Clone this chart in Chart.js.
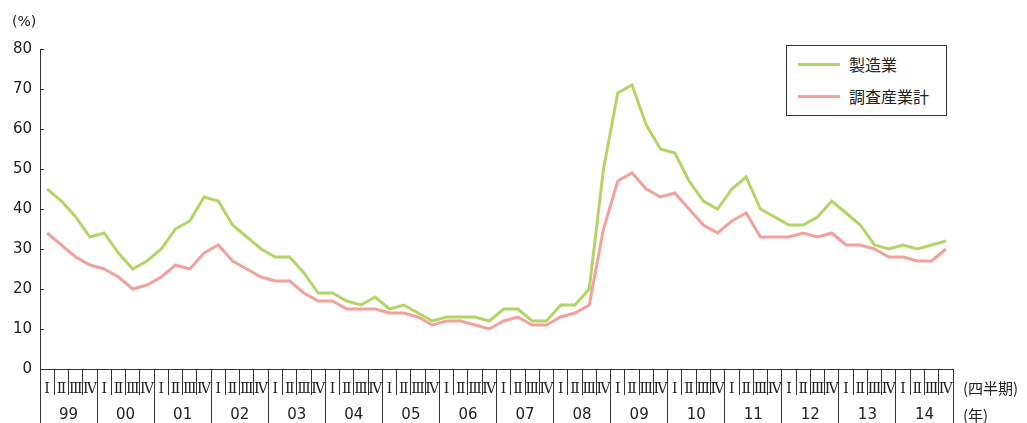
<!DOCTYPE html>
<html>
<head>
<meta charset="utf-8">
<script src="https://cdn.jsdelivr.net/npm/chart.js@4/dist/chart.umd.min.js"></script>
<style>
  html, body { margin: 0; padding: 0; background: #fff; }
  #wrap { position: relative; width: 1027px; height: 423px; }
  #legend {
    position: absolute; left: 786px; top: 45px; width: 159px; height: 69px;
    border: 1px solid #333; background: #fff;
    font-family: "Noto Sans CJK JP", sans-serif; font-size: 16px; color: #222;
  }
  #legend .row { position: absolute; left: 11px; height: 20px; display: flex; align-items: center; white-space: nowrap; }
  #legend .swatch { width: 42px; height: 3px; margin-right: 9px; }
</style>
</head>
<body>
<div id="wrap">
  <canvas id="c" width="1027" height="423"></canvas>
  <div id="legend"></div>
</div>
<script>
// Quarter and year labels for the x axis
const quarterNames = ['Ⅰ', 'Ⅱ', 'Ⅲ', 'Ⅳ'];
const years = ['99', '00', '01', '02', '03', '04', '05', '06', '07', '08', '09', '10', '11', '12', '13', '14'];
const categories = years.flatMap(y => quarterNames.map(q => q));

// Quarterly values (%), 1999 Q1 – 2014 Q4
const manufacturing = [
  45, 42, 38, 33,  34, 29, 25, 27,  30, 35, 37, 43,  42, 36, 33, 30,
  28, 28, 24, 19,  19, 17, 16, 18,  15, 16, 14, 12,  13, 13, 13, 12,
  15, 15, 12, 12,  16, 16, 20, 50,  69, 71, 61, 55,  54, 47, 42, 40,
  45, 48, 40, 38,  36, 36, 38, 42,  39, 36, 31, 30,  31, 30, 31, 32
];
const allIndustries = [
  34, 31, 28, 26,  25, 23, 20, 21,  23, 26, 25, 29,  31, 27, 25, 23,
  22, 22, 19, 17,  17, 15, 15, 15,  14, 14, 13, 11,  12, 12, 11, 10,
  12, 13, 11, 11,  13, 14, 16, 35,  47, 49, 45, 43,  44, 40, 36, 34,
  37, 39, 33, 33,  33, 34, 33, 34,  31, 31, 30, 28,  28, 27, 27, 30
];
const seriesNames = ['製造業', '調査産業計'];

const GREEN = '#b4d565';
const PINK = '#f3a19c';
const AXIS = '#333';

// Inward y ticks and the unit captions beside the x axes
const decor = {
  id: 'decor',
  afterDraw(chart) {
    const ctx = chart.ctx;
    const ys = chart.scales.y;
    const qs = chart.scales.x;
    const yr = chart.scales.year;
    ctx.save();
    ctx.strokeStyle = AXIS;
    ctx.lineWidth = 1;
    ys.ticks.forEach((t, i) => {
      const py = Math.round(ys.getPixelForTick(i)) + 0.5;
      ctx.beginPath();
      ctx.moveTo(ys.right, py);
      ctx.lineTo(ys.right + 4, py);
      ctx.stroke();
    });
    ctx.fillStyle = '#222';
    ctx.font = '15px "Noto Sans CJK JP"';
    ctx.textAlign = 'left';
    ctx.textBaseline = 'middle';
    ctx.fillText('(四半期)', qs.right + 10, qs.bottom - 7);
    ctx.fillText('(年)', qs.right + 10, yr.bottom - 8);
    ctx.restore();
  }
};

const chart = new Chart(document.getElementById('c'), {
  type: 'line',
  data: {
    labels: categories,
    datasets: [
      { label: seriesNames[0], data: manufacturing, borderColor: GREEN, backgroundColor: GREEN,
        borderWidth: 3, pointRadius: 0, tension: 0, order: 0 },
      { label: seriesNames[1], data: allIndustries, borderColor: PINK, backgroundColor: PINK,
        borderWidth: 3, pointRadius: 0, tension: 0, order: 1 }
    ]
  },
  options: {
    responsive: false,
    animation: false,
    devicePixelRatio: 1,
    layout: { padding: { left: 12, right: 74, top: 0, bottom: 0 } },
    plugins: {
      legend: { display: false },
      tooltip: { enabled: false },
      title: {
        display: true, text: '(%)', align: 'start', color: '#222',
        font: { family: 'DejaVu Sans', size: 14, weight: 'normal', lineHeight: 1.2 },
        padding: { top: 14, bottom: 18.2 }
      }
    },
    scales: {
      y: {
        min: 0, max: 80,
        afterFit(s) { s.width = 28; },
        ticks: { stepSize: 10, padding: 8, color: '#222', font: { family: 'DejaVu Sans', size: 15 } },
        grid: { drawOnChartArea: false, drawTicks: false },
        border: { display: true, color: AXIS, width: 1 }
      },
      x: {
        type: 'category',
        position: 'bottom',
        weight: 0,
        offset: true,
        afterFit(s) { s.height = 26; },
        grid: { offset: true, drawOnChartArea: false, drawTicks: true, tickLength: 26, color: AXIS, tickColor: AXIS },
        border: { display: true, color: AXIS, width: 1 },
        ticks: {
          autoSkip: false, maxRotation: 0, minRotation: 0, padding: -14,
          color: '#222', font: { family: 'DejaVu Serif', size: 14 }
        }
      },
      year: {
        type: 'category',
        position: 'bottom',
        weight: 1,
        labels: years,
        offset: true,
        afterFit(s) { s.height = 28; },
        grid: { offset: true, drawOnChartArea: false, drawTicks: true, tickLength: 28, color: AXIS, tickColor: AXIS },
        border: { display: false },
        ticks: {
          autoSkip: false, maxRotation: 0, minRotation: 0, padding: -17,
          color: '#222', font: { family: 'DejaVu Sans', size: 15 }
        }
      }
    }
  },
  plugins: [decor]
});

// Legend built from the chart's own datasets
const legendEl = document.getElementById('legend');
chart.data.datasets.forEach((ds, i) => {
  const row = document.createElement('div');
  row.className = 'row';
  row.style.top = (8 + i * 32) + 'px';
  const sw = document.createElement('span');
  sw.className = 'swatch';
  sw.style.background = ds.borderColor;
  const tx = document.createElement('span');
  tx.textContent = ds.label;
  row.appendChild(sw);
  row.appendChild(tx);
  legendEl.appendChild(row);
});
</script>
</body>
</html>
